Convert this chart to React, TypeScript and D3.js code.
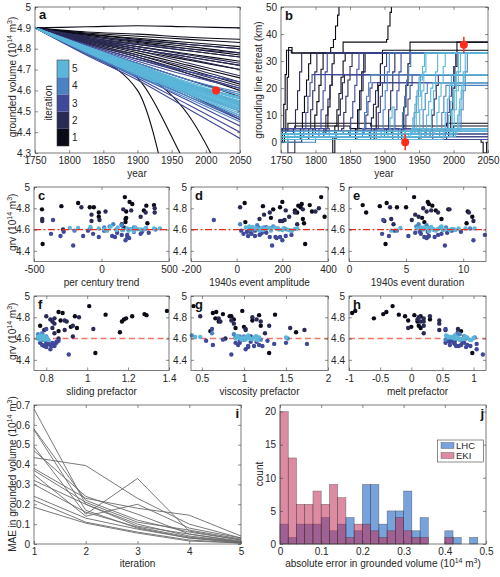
import React, { useEffect, useRef } from 'react';
import * as d3 from 'd3';

const FONT = '"Liberation Sans", Arial, Helvetica, sans-serif';
const INK = '#262626';
const AXIS = '#404040';
const RED = '#ff2b1c';
const iterColors = ['#0b0b17', '#2a2a56', '#3f4899', '#4a82c3', '#5bb6d9'];
const iterations = [1, 2, 3, 4, 5];

// (a) grounded volume runs: knots at these years, each run is [iteration, v1825, v1900, v1975, v2050]
const volumeYears = [1750, 1825, 1900, 1975, 2050];
const volumeStart = 4.9;
const volumeRuns: number[][] = [
  [1, 4.905, 4.91, 4.905, 4.9], [1, 4.88, 4.87, 4.855, 4.845], [1, 4.875, 4.86, 4.845, 4.83],
  [1, 4.87, 4.85, 4.83, 4.81], [1, 4.87, 4.845, 4.82, 4.8], [1, 4.865, 4.835, 4.81, 4.78],
  [1, 4.86, 4.83, 4.8, 4.77], [1, 4.855, 4.82, 4.79, 4.76], [1, 4.85, 4.81, 4.775, 4.74],
  [1, 4.845, 4.8, 4.76, 4.72], [1, 4.84, 4.79, 4.745, 4.7], [1, 4.835, 4.78, 4.72, 4.66],
  [1, 4.83, 4.77, 4.7, 4.63], [1, 4.825, 4.76, 4.68, 4.6], [1, 4.8, 4.72, 4.63, 4.54],
  [1, 4.78, 4.6, 3.7, 3.0], [1, 4.79, 4.66, 4.22, 3.8], [1, 4.8, 4.7, 4.48, 4.0],
  [2, 4.86, 4.84, 4.82, 4.8], [2, 4.85, 4.82, 4.79, 4.76], [2, 4.845, 4.81, 4.77, 4.73],
  [2, 4.84, 4.8, 4.75, 4.7], [2, 4.835, 4.79, 4.73, 4.67], [2, 4.83, 4.77, 4.71, 4.64],
  [2, 4.82, 4.75, 4.68, 4.61], [2, 4.81, 4.73, 4.65, 4.57], [2, 4.8, 4.71, 4.62, 4.53],
  [2, 4.79, 4.69, 4.58, 4.46], [2, 4.855, 4.825, 4.8, 4.78], [2, 4.845, 4.8, 4.76, 4.72],
  [2, 4.825, 4.76, 4.69, 4.62],
  [3, 4.79, 4.69, 4.58, 4.47], [3, 4.78, 4.67, 4.55, 4.43], [3, 4.775, 4.66, 4.53, 4.4],
  [3, 4.77, 4.65, 4.51, 4.37], [3, 4.8, 4.71, 4.62, 4.53], [3, 4.81, 4.73, 4.65, 4.58],
  [3, 4.815, 4.74, 4.67, 4.61], [3, 4.785, 4.68, 4.57, 4.46], [3, 4.795, 4.7, 4.6, 4.5],
  [3, 4.82, 4.75, 4.69, 4.64],
  [4, 4.8, 4.7, 4.61, 4.53], [4, 4.79, 4.69, 4.59, 4.5], [4, 4.78, 4.67, 4.57, 4.47],
  [4, 4.81, 4.72, 4.63, 4.56], [4, 4.795, 4.7, 4.6, 4.51], [4, 4.785, 4.68, 4.58, 4.48],
  [4, 4.81, 4.73, 4.65, 4.59], [4, 4.78, 4.665, 4.56, 4.45], [4, 4.805, 4.71, 4.62, 4.54],
  [5, 4.8, 4.71, 4.62, 4.55], [5, 4.79, 4.7, 4.61, 4.53], [5, 4.8, 4.7, 4.6, 4.52],
  [5, 4.79, 4.69, 4.6, 4.51], [5, 4.81, 4.72, 4.63, 4.56], [5, 4.8, 4.7, 4.615, 4.54],
  [5, 4.785, 4.68, 4.59, 4.5], [5, 4.795, 4.695, 4.605, 4.525], [5, 4.805, 4.715, 4.63, 4.57],
  [5, 4.79, 4.685, 4.595, 4.515], [5, 4.8, 4.705, 4.62, 4.545], [5, 4.81, 4.725, 4.64, 4.58],
  [5, 4.785, 4.68, 4.585, 4.49], [5, 4.8, 4.7, 4.61, 4.535], [5, 4.795, 4.69, 4.6, 4.52],
  [5, 4.805, 4.71, 4.625, 4.55], [5, 4.79, 4.69, 4.595, 4.505], [5, 4.81, 4.72, 4.635, 4.565],
  [5, 4.785, 4.675, 4.58, 4.48], [5, 4.795, 4.7, 4.61, 4.54], [5, 4.8, 4.705, 4.615, 4.535],
  [5, 4.81, 4.715, 4.63, 4.56],
];
const volumeObs = { year: 2015, value: 4.6 };

// (b) grounding line retreat, step changes as [year, km]
const retreatRuns: [number, number[][]][] = [
  [1, [[1750, 0], [1755, 3], [1757, 12], [1759, 24], [1761, 35], [1766, 33]]],
  [1, [[1750, 0], [1752, 5], [1754, 14], [1756, 25], [1758, 34], [1765, 33]]],
  [1, [[1750, 1], [1778, 5], [1781, 11], [1784, 17], [1787, 23], [1790, 29], [1793, 33], [1822, 35], [1826, 38], [1829, 43], [1832, 47], [1834, 53]]],
  [1, [[1750, 2], [1796, 5], [1799, 10], [1802, 15], [1805, 21], [1808, 27], [1811, 33], [1840, 37], [1903, 38], [1905, 43], [1908, 48], [1910, 53]]],
  [1, [[1750, 3], [1815, 5], [1818, 13], [1821, 21], [1824, 29], [1827, 33]]],
  [1, [[1750, 3], [1828, 6], [1831, 12], [1834, 18], [1837, 24], [1840, 30], [1843, 33]]],
  [1, [[1750, 1], [1858, 5], [1861, 12], [1864, 19], [1867, 26], [1870, 33]]],
  [1, [[1750, 1], [1885, 5], [1888, 13], [1891, 21], [1894, 29], [1897, 34]]],
  [1, [[1750, 2], [1993, 4], [1996, 12], [1999, 20], [2002, 28], [2005, 37]]],
  [1, [[1750, 4], [1760, 7], [1880, 6], [1990, 7]]],
  [1, [[1750, 5], [1770, 6], [1850, 5], [1950, 4], [2000, 6]]],
  [1, [[1750, 2], [1825, -4], [1828, 2], [1950, 1], [2040, 0], [2043, -4], [2048, 0]]],
  [1, [[1750, 1], [1925, 5], [1928, 13], [1931, 21], [1934, 29], [1937, 37]]],
  [2, [[1750, 3], [1768, 5], [1771, 12], [1774, 19], [1777, 26], [1780, 33]]],
  [2, [[1750, 2], [1790, 5], [1793, 12], [1796, 19], [1799, 26], [1802, 33]]],
  [2, [[1750, 2], [1812, 5], [1815, 10], [1818, 16], [1821, 21], [1824, 25]]],
  [2, [[1750, 1], [1830, 4], [1833, 10], [1836, 16], [1839, 22], [1842, 25]]],
  [2, [[1750, 4], [1838, 5], [1841, 11], [1844, 17], [1847, 23], [1850, 28], [1853, 33]]],
  [2, [[1750, 3], [1860, 5], [1863, 12], [1866, 19], [1869, 26], [1872, 33]]],
  [2, [[1750, 2], [1878, 4], [1881, 9], [1884, 14], [1887, 19], [1890, 22]]],
  [2, [[1750, 1], [1760, -4], [1770, 1], [1790, 3], [1900, 2]]],
  [2, [[1750, 3], [1903, 5], [1906, 12], [1909, 19], [1912, 26], [1915, 33]]],
  [2, [[1750, 2], [1966, 4], [1969, 10], [1972, 16], [1975, 21], [1978, 25]]],
  [2, [[1750, 5], [1800, 4], [1900, 5], [2000, 3]]],
  [2, [[1750, 0], [1780, 1], [1830, 3], [1880, 1], [1930, 2], [1990, 1]]],
  [2, [[1750, 4], [1790, 2], [1850, 4], [1910, 3], [1960, 5]]],
  [3, [[1750, 2], [1783, 5], [1786, 11], [1789, 17], [1792, 22], [1795, 25]]],
  [3, [[1750, 2], [1805, 5], [1808, 12], [1811, 19], [1814, 26], [1817, 33]]],
  [3, [[1750, 3], [1848, 4], [1851, 9], [1854, 15], [1857, 21], [1860, 27], [1863, 33]]],
  [3, [[1750, 3], [1870, 5], [1873, 10], [1876, 15], [1879, 20], [1882, 22]]],
  [3, [[1750, 1], [1888, 5], [1891, 11], [1894, 17], [1897, 22], [1900, 28], [1903, 33]]],
  [3, [[1750, 1], [1912, 5], [1915, 12], [1918, 19], [1921, 26], [1924, 33]]],
  [3, [[1750, 4], [1928, 5], [1931, 10], [1934, 16], [1937, 21], [1940, 25]]],
  [3, [[1750, 2], [1988, 5], [1991, 11], [1994, 17], [1997, 22], [2000, 28], [2003, 33]]],
  [3, [[1750, 3], [1800, 4], [1850, 2], [1900, 5], [1950, 3]]],
  [3, [[1750, 1], [1790, 3], [1840, 4], [1880, 2], [1930, 4], [2000, 2]]],
  [3, [[1750, 5], [1820, 3], [1870, 5], [1920, 4], [1970, 1]]],
  [4, [[1750, 2], [1868, 5], [1871, 11], [1874, 17], [1877, 22], [1880, 25]]],
  [4, [[1750, 2], [1895, 5], [1898, 12], [1901, 19], [1904, 26], [1907, 33]]],
  [4, [[1750, 3], [1923, 5], [1926, 11], [1929, 17], [1932, 23], [1935, 28], [1938, 33]]],
  [4, [[1750, 3], [1940, 5], [1943, 11], [1946, 17], [1949, 22], [1952, 25]]],
  [4, [[1750, 1], [1953, 5], [1956, 12], [1959, 18], [1962, 22]]],
  [4, [[1750, 2], [1980, 5], [1983, 11], [1986, 17], [1989, 21]]],
  [4, [[1750, 4], [2008, 5], [2011, 12], [2014, 19], [2017, 26], [2020, 33]]],
  [4, [[1750, 2], [1900, 3], [2000, 4]]],
  [4, [[1750, 3], [1780, 1], [1830, 3], [1870, 4], [1920, 2], [1960, 4]]],
  [4, [[1750, 0], [1800, 2], [1860, 1], [1920, 3], [1990, 5]]],
  [5, [[1750, 2], [1938, 4], [1941, 9], [1944, 14], [1947, 19], [1950, 24], [1953, 25]]],
  [5, [[1750, 3], [1943, 5], [1946, 11], [1949, 17], [1952, 23], [1955, 28], [1958, 33]]],
  [5, [[1750, 3], [1948, 5], [1951, 12], [1954, 19], [1957, 26], [1960, 33]]],
  [5, [[1750, 2], [1958, 5], [1961, 10], [1964, 15], [1967, 20], [1970, 22]]],
  [5, [[1750, 2], [1965, 5], [1968, 12], [1971, 19], [1974, 26], [1977, 33]]],
  [5, [[1750, 3], [1973, 5], [1976, 11], [1979, 17], [1982, 22], [1985, 28], [1988, 33]]],
  [5, [[1750, 1], [1985, 5], [1988, 11], [1991, 16], [1994, 21], [1997, 25]]],
  [5, [[1750, 2], [1995, 5], [1998, 12], [2001, 19], [2004, 26], [2007, 33]]],
  [5, [[1750, 2], [1998, 5], [2001, 12], [2004, 19], [2007, 26], [2010, 33]]],
  [5, [[1750, 2], [2003, 4], [2006, 10], [2009, 16], [2012, 21], [2015, 25]]],
  [5, [[1750, 3], [2005, 5], [2008, 12], [2011, 19], [2014, 26], [2017, 33]]],
  [5, [[1750, 3], [1940, 4]]],
  [5, [[1750, 2], [1935, 3], [1940, 5]]],
  [5, [[1750, 1], [1800, 2], [1950, 4]]],
  [5, [[1750, 0], [1760, 3], [1940, 4], [2030, 5]]],
  [5, [[1750, 3], [1790, 2], [1820, 4], [1860, 3], [1900, 4], [1940, 5], [2000, 4]]],
  [5, [[1750, 1], [1780, 3], [1830, 2], [1880, 3], [1930, 4], [1990, 5]]],
  [5, [[1750, 2], [1770, 4], [1810, 3], [1850, 4], [1900, 3], [1945, 5]]],
  [5, [[1750, 2], [1905, 4], [1908, 9], [1911, 13], [1914, 4], [1990, 4], [1993, 10], [1996, 15], [1999, 21], [2002, 25]]],
];
const retreatObs = [{ year: 1930, value: 0, err: 3 }, { year: 2015, value: 36, err: 3 }];

// (c-h) ensemble members: [grv, trend, amplitude, duration, sliding, viscosity, melt]
const iter1Samples = [
  [4.905, 173, 370, 5.7, 1.01, 0.4, -0.3], [4.86, 208, 200, 6.9, 1.39, 0.98, -0.9],
  [4.85, -173, 35, 3.3, 0.86, 0.67, -0.4], [4.84, 228, 285, 7.0, 0.88, 0.63, -0.95],
  [4.83, 389, 320, 1.2, 1.28, 0.75, -0.45], [4.82, -297, 115, 2.7, 1.29, 1.18, 0.05],
  [4.825, 332, 270, 7.3, 1.09, 1.37, -0.2], [4.81, -87, 190, 4.2, 0.94, 0.83, 0.15],
  [4.81, -57, 280, 5.0, 1.22, 0.85, -0.1], [4.79, -441, 160, 8.7, 1.19, 0.66, -0.6],
  [4.78, 314, 255, 7.6, 1.18, 0.88, 0.3], [4.77, 183, 330, 10.4, 0.87, 1.1, -0.05],
  [4.76, -20, 265, 1.5, 1.17, 0.7, 0.1], [4.72, -20, 385, 10.8, 0.77, 1.2, 0.12],
  [4.71, 183, 150, 6.4, 0.92, 1.0, 0.0], [4.7, 178, 290, 8.1, 0.95, 0.9, 0.15],
  [4.67, 178, 38, 6.6, 0.86, 0.6, 0.8], [4.66, 340, 295, 10.3, 1.16, 1.62, 0.75],
  [4.465, -436, 300, 3.2, 1.04, 1.3, 0.98],
];
const iter2Samples = [
  [4.81, -149, 15, 3.6, 0.8, 0.48, 0.3], [4.8, 394, 360, 6.5, 0.96, 1.1, 0.12],
  [4.79, 161, 290, 8.8, 0.84, 0.7, 0.2], [4.78, 220, 215, 7.2, 0.82, 1.15, 0.1],
  [4.77, 30, 345, 6.8, 0.89, 0.85, 0.45], [4.76, 327, 145, 7.8, 0.9, 0.72, 0.15],
  [4.76, 394, 255, 10.5, 0.83, 1.2, 0.2], [4.74, -74, 120, 5.8, 0.84, 0.88, 0.45],
  [4.72, 290, 230, 6.1, 0.93, 1.3, 0.2], [4.7, -439, 100, 3.7, 0.83, 1.55, -0.05],
  [4.69, -15, 210, 5.5, 1.03, 1.02, 0.75], [4.68, -74, 190, 3.1, 0.79, 1.72, 0.55],
  [4.68, -439, 200, 10.9, 0.89, 1.02, 0.45], [4.65, 150, 265, 3.9, 0.84, 1.25, 0.2],
  [4.62, 166, 130, 6.1, 0.93, 1.08, 0.85], [4.6, -285, 60, 6.3, 0.86, 0.78, 0.6],
];
const iter3Samples = [
  [4.69, -359, -100, 3.0, 0.8, 0.62, 0.55], [4.56, -374, 30, 2.9, 0.77, 0.9, 0.55],
  [4.54, -304, 80, 5.2, 0.78, 0.93, 0.62], [4.58, -280, 125, 6.2, 0.81, 0.95, 0.7],
  [4.45, -210, 155, 8.4, 0.91, 0.85, 1.15], [4.54, -136, 50, 3.5, 0.84, 0.63, 0.8],
  [4.56, -62, 65, 6.3, 0.83, 0.95, 0.85], [4.53, -20, 145, 6.6, 0.79, 1.05, 0.72],
  [4.54, 79, 215, 7.0, 0.82, 1.18, 0.9], [4.57, 116, 110, 5.8, 0.8, 1.08, 0.62],
  [4.53, 191, 190, 7.5, 0.84, 1.22, 0.95], [4.55, 191, 240, 7.8, 0.8, 1.75, 1.05],
  [4.58, 240, 45, 6.9, 0.86, 0.55, 0.58], [4.56, 290, 105, 8.1, 0.85, 1.5, 0.68],
  [4.5, 178, 200, 10.9, 0.82, 1.02, 1.05], [4.52, 205, 175, 6.8, 0.8, 1.05, 0.88],
  [4.55, 150, 100, 11.9, 0.81, 1.36, 0.7], [4.59, -100, 80, 9.0, 0.79, 0.75, 0.78],
  [4.57, 350, 130, 8.6, 0.85, 1.15, 0.82], [4.59, 20, 20, 4.0, 0.78, 1.0, 0.65],
  [4.53, 100, 170, 6.9, 0.83, 1.12, 0.76], [4.58, 300, 60, 9.8, 0.8, 1.28, 0.6],
];
const iter4Samples = [
  [4.63, 60, 160, 5.9, 0.77, 0.38, 0.7], [4.65, 87, 15, 6.1, 0.78, 0.62, 0.75],
  [4.61, -82, 180, 7.0, 0.76, 0.9, 0.65], [4.62, 240, 95, 8.5, 0.8, 1.0, 0.58],
  [4.6, 400, 60, 7.4, 0.79, 1.1, 0.84], [4.64, 150, 90, 6.8, 0.76, 0.88, 0.78],
  [4.59, -200, 240, 4.2, 0.81, 1.2, 0.55], [4.61, 330, 210, 10.6, 0.77, 1.05, 1.02],
  [4.62, 20, 120, 8.0, 0.78, 0.95, 0.72], [4.6, 110, 75, 9.2, 0.8, 1.52, 0.88],
];
const iter5Samples = [
  [4.615, -235, 110, 6.8, 0.76, 0.42, 0.62], [4.615, -173, 135, 7.0, 0.77, 0.48, 0.66],
  [4.625, -82, 70, 7.2, 0.78, 0.92, 0.7], [4.6, 22, 95, 6.5, 0.76, 0.98, 0.74],
  [4.59, 42, 150, 7.6, 0.79, 1.02, 0.78], [4.63, 67, 55, 8.1, 0.77, 1.05, 0.56],
  [4.595, 111, 200, 8.8, 0.78, 1.08, 0.8], [4.595, 153, 230, 9.3, 0.8, 1.1, 0.82],
  [4.61, 190, 175, 6.0, 0.76, 1.12, 0.6], [4.605, 215, 125, 7.8, 0.78, 0.95, 0.68],
  [4.62, 250, 165, 6.3, 0.79, 1.15, 0.86], [4.6, 290, 185, 8.4, 0.77, 1.0, 0.76],
  [4.615, 330, 145, 4.5, 0.76, 1.06, 0.64], [4.61, 389, 265, 10.2, 0.78, 1.18, 0.9],
  [4.61, 433, 205, 11.0, 0.8, 1.5, 0.72], [4.59, 200, 100, 3.7, 0.77, 0.97, 0.94],
  [4.605, 265, 255, 9.0, 0.79, 1.04, 1.0], [4.62, 120, 40, 6.6, 0.78, 1.14, 0.58],
  [4.6, 315, 220, 7.4, 0.76, 0.9, 0.7], [4.595, 160, 115, 8.2, 0.8, 1.09, 0.84],
  [4.61, -20, 85, 9.6, 0.77, 1.01, 0.66], [4.585, 240, 240, 7.0, 0.81, 1.16, 0.96],
];
const sampleSets = [iter1Samples, iter2Samples, iter3Samples, iter4Samples, iter5Samples];
const targetGrv = 4.6;

const paramLabels = ['per century trend', '1940s event amplitude', '1940s event duration', 'sliding prefactor', 'viscosity prefactor', 'melt prefactor'];
const paramLetters = ['c', 'd', 'e', 'f', 'g', 'h'];
const paramDomains = [[-500, 500], [-200, 400], [0, 12], [0.74, 1.4], [0.37, 2], [-1, 1.2]];
const paramTicks = [[-500, 0, 500], [-200, 0, 200, 400], [0, 5, 10], [0.8, 1, 1.2, 1.4], [0.5, 1, 1.5, 2], [-1, -0.5, 0, 0.5, 1]];

// (i) mean absolute error per iteration for each experiment
const maeIterations = [1, 2, 3, 4, 5];
const maeRuns = [
  [0.68, 0.2, 0.09, 0.05, 0.01], [0.58, 0.22, 0.12, 0.06, 0.02], [0.575, 0.17, 0.08, 0.03, 0.005],
  [0.49, 0.15, 0.33, 0.065, 0.02], [0.47, 0.24, 0.15, 0.05, 0.015], [0.435, 0.395, 0.23, 0.1, 0.03],
  [0.38, 0.23, 0.18, 0.145, 0.04], [0.37, 0.21, 0.11, 0.07, 0.025], [0.35, 0.14, 0.2, 0.08, 0.03],
  [0.32, 0.2, 0.1, 0.04, 0.01], [0.3, 0.16, 0.085, 0.035, 0.01], [0.24, 0.13, 0.075, 0.03, 0.01],
  [0.22, 0.11, 0.06, 0.02, 0.005], [0.185, 0.105, 0.055, 0.015, 0.005],
];

// (j) histogram counts, bins of 0.02 starting at 0
const binWidth = 0.02;
const lhcCounts = [3, 1, 3, 3, 3, 4, 2, 3, 4, 2, 9, 9, 3, 5, 5, 8, 2, 4, 0, 0, 2, 1, 0, 1];
const ekiCounts = [20, 13, 6, 6, 8, 6, 9, 7, 1, 3, 3, 2, 1, 2, 4, 2, 1, 1, 0, 0, 1, 0, 0, 0];
const histSeries = [
  { name: 'LHC', counts: lhcCounts, color: '#0a55c0' },
  { name: 'EKI', counts: ekiCounts, color: '#c02c58' },
];

const fmt = (d: any) => String(Math.round(+d * 1000) / 1000);
const supParts = (lead: string): [string, boolean][] => [[lead + ' (10', false], ['14', true], [' m', false], ['3', true], [')', false]];

function styleAxis(sel: any) {
  sel.select('.domain').remove();
  sel.selectAll('line').attr('stroke', AXIS).attr('stroke-width', 0.6);
  sel.selectAll('text').attr('fill', INK).attr('font-size', 10).attr('font-family', FONT);
}

function frame(g: any, x: any, y: any, xTicks: number[], yTicks: number[]) {
  const [x0, x1] = x.range();
  const [yb, yt] = y.range();
  g.append('g').attr('transform', `translate(0,${yb})`)
    .call(d3.axisBottom(x).tickValues(xTicks).tickSizeInner(-3).tickSizeOuter(0).tickPadding(4).tickFormat(fmt)).call(styleAxis);
  g.append('g').attr('transform', `translate(0,${yt})`)
    .call(d3.axisTop(x).tickValues(xTicks).tickSizeInner(-3).tickSizeOuter(0).tickFormat(() => '')).call(styleAxis);
  g.append('g').attr('transform', `translate(${x0},0)`)
    .call(d3.axisLeft(y).tickValues(yTicks).tickSizeInner(-3).tickSizeOuter(0).tickPadding(4).tickFormat(fmt)).call(styleAxis);
  g.append('g').attr('transform', `translate(${x1},0)`)
    .call(d3.axisRight(y).tickValues(yTicks).tickSizeInner(-3).tickSizeOuter(0).tickFormat(() => '')).call(styleAxis);
  g.append('rect').attr('x', x0).attr('y', yt).attr('width', x1 - x0).attr('height', yb - yt)
    .attr('fill', 'none').attr('stroke', AXIS).attr('stroke-width', 0.7);
}

function label(g: any, x: number, y: number, parts: [string, boolean][], rotate: boolean) {
  const t = g.append('text')
    .attr('transform', rotate ? `translate(${x},${y}) rotate(-90)` : `translate(${x},${y})`)
    .attr('text-anchor', 'middle').attr('font-size', 10).attr('fill', INK);
  let up = false;
  parts.forEach(([s, sup]) => {
    t.append('tspan').attr('dy', sup === up ? 0 : sup ? -4 : 4).attr('font-size', sup ? 7 : 10).text(s);
    up = sup;
  });
}

function letter(g: any, x: number, y: number, s: string, anchor = 'start') {
  g.append('text').attr('x', x).attr('y', y).attr('text-anchor', anchor)
    .attr('font-size', 13).attr('font-weight', 'bold').attr('fill', '#111').text(s);
}

function clip(defs: any, id: string, x: any, y: any) {
  const [x0, x1] = x.range();
  const [yb, yt] = y.range();
  defs.append('clipPath').attr('id', id).append('rect').attr('x', x0).attr('y', yt).attr('width', x1 - x0).attr('height', yb - yt);
}

export default function App() {
  const ref = useRef<SVGSVGElement>(null);

  useEffect(() => {
    const svg = d3.select(ref.current);
    svg.selectAll('*').remove();
    svg.attr('font-family', FONT);
    const defs = svg.append('defs');

    // ---------- (a) grounded volume ----------
    const ax = d3.scaleLinear().domain([1750, 2050]).range([35, 240]);
    const ay = d3.scaleLinear().domain([4.3, 5]).range([153, 7]);
    clip(defs, 'clipA', ax, ay);
    const ga = svg.append('g');
    const volLine = d3.line<number[]>().x(d => ax(d[0])).y(d => ay(d[1])).curve(d3.curveMonotoneX);
    const runsA = ga.append('g').attr('clip-path', 'url(#clipA)');
    iterations.forEach(it => {
      volumeRuns.filter(r => r[0] === it).forEach(r => {
        const pts = volumeYears.map((yr, i) => [yr, i === 0 ? volumeStart : r[i]]);
        runsA.append('path').attr('d', volLine(pts)).attr('fill', 'none')
          .attr('stroke', iterColors[it - 1]).attr('stroke-width', 1.1);
      });
    });
    ga.append('circle').attr('cx', ax(volumeObs.year)).attr('cy', ay(volumeObs.value)).attr('r', 4).attr('fill', RED);

    // colourbar
    const cb = d3.scaleLinear().domain([0.5, 5.5]).range([146, 60]);
    iterations.forEach(it => {
      ga.append('rect').attr('x', 57).attr('y', cb(it + 0.5)).attr('width', 12).attr('height', cb(it - 0.5) - cb(it + 0.5))
        .attr('fill', iterColors[it - 1]);
      ga.append('text').attr('x', 72).attr('y', cb(it)).attr('dy', '0.35em').attr('font-size', 10).attr('fill', INK).text(it);
    });
    ga.append('rect').attr('x', 57).attr('y', 60).attr('width', 12).attr('height', 86).attr('fill', 'none').attr('stroke', AXIS).attr('stroke-width', 0.6);
    label(ga, 52, 103, [['iteration', false]], true);

    frame(ga, ax, ay, [1750, 1800, 1850, 1900, 1950, 2000, 2050], [4.3, 4.4, 4.5, 4.6, 4.7, 4.8, 4.9, 5]);
    label(ga, 15.5, 77, supParts('grounded volume'), true);
    label(ga, 137, 177, [['year', false]], false);
    letter(ga, 39, 19, 'a');

    // ---------- (b) grounding line retreat ----------
    const bx = d3.scaleLinear().domain([1750, 2050]).range([281, 488]);
    const by = d3.scaleLinear().domain([-4, 50]).range([153, 7]);
    clip(defs, 'clipB', bx, by);
    const gb = svg.append('g');
    const stepLine = d3.line<number[]>().x(d => bx(d[0])).y(d => by(d[1])).curve(d3.curveStepAfter);
    const runsB = gb.append('g').attr('clip-path', 'url(#clipB)');
    iterations.forEach(it => {
      retreatRuns.filter(r => r[0] === it).forEach(([, pts]) => {
        const full = [...pts, [2050, pts[pts.length - 1][1]]];
        runsB.append('path').attr('d', stepLine(full)).attr('fill', 'none')
          .attr('stroke', iterColors[it - 1]).attr('stroke-width', 1.1);
      });
    });
    retreatObs.forEach(o => {
      gb.append('line').attr('x1', bx(o.year)).attr('x2', bx(o.year)).attr('y1', by(o.value - o.err)).attr('y2', by(o.value + o.err))
        .attr('stroke', RED).attr('stroke-width', 1.5);
      gb.append('circle').attr('cx', bx(o.year)).attr('cy', by(o.value)).attr('r', 4).attr('fill', RED);
    });
    frame(gb, bx, by, [1750, 1800, 1850, 1900, 1950, 2000, 2050], [0, 10, 20, 30, 40, 50]);
    label(gb, 261.5, 80, [['grounding line retreat (km)', false]], true);
    label(gb, 384, 177, [['year', false]], false);
    letter(gb, 285, 20, 'b');

    // ---------- (c-h) parameter scatter ----------
    const cols = [[34, 169], [191, 328], [349, 486]];
    const rows = [[261.5, 187], [370.5, 296]];
    paramLabels.forEach((name, k) => {
      const row = Math.floor(k / 3);
      const col = k % 3;
      const x = d3.scaleLinear().domain(paramDomains[k]).range(cols[col]);
      const y = d3.scaleLinear().domain([4.3, 5]).range(rows[row]);
      const g = svg.append('g');
      const target = () => g.append('line')
        .attr('x1', cols[col][0]).attr('x2', cols[col][1]).attr('y1', y(targetGrv)).attr('y2', y(targetGrv))
        .attr('stroke', row === 0 ? '#ee2a1b' : '#f47663').attr('stroke-width', row === 0 ? 1.2 : 1.5)
        .attr('stroke-dasharray', row === 0 ? '7,2.5,2,2.5' : '6,3.5');
      if (row === 1) target();
      sampleSets.forEach((set, i) => {
        g.append('g').selectAll('circle').data(set).enter().append('circle')
          .attr('cx', d => x(d[k + 1])).attr('cy', d => y(d[0])).attr('r', 2.2)
          .attr('fill', iterColors[i]);
      });
      if (row === 0) target();
      frame(g, x, y, paramTicks[k], [4.4, 4.6, 4.8, 5]);
      label(g, (cols[col][0] + cols[col][1]) / 2, row === 0 ? 286 : 395, [[name, false]], false);
      letter(g, cols[col][0] + 4, rows[row][1] + 13, paramLetters[k]);
      if (col === 0) label(g, 15.5, (rows[row][0] + rows[row][1]) / 2 - 2, supParts('grv'), true);
    });

    // ---------- (i) MAE by iteration ----------
    const ix = d3.scaleLinear().domain([1, 5]).range([34, 241]);
    const iy = d3.scaleLinear().domain([0, 0.7]).range([544, 405]);
    const gi = svg.append('g');
    const maeLine = d3.line<number>().x((_, j) => ix(maeIterations[j])).y(d => iy(d));
    maeRuns.forEach(r => {
      gi.append('path').attr('d', maeLine(r)).attr('fill', 'none').attr('stroke', '#6a6a6a').attr('stroke-width', 0.9);
    });
    frame(gi, ix, iy, [1, 2, 3, 4, 5], [0, 0.1, 0.2, 0.3, 0.4, 0.5, 0.6, 0.7]);
    label(gi, 15.5, 474, supParts('MAE in grounded volume'), true);
    label(gi, 137.5, 567, [['iteration', false]], false);
    letter(gi, 239, 418, 'i', 'end');

    // ---------- (j) error histogram ----------
    const jx = d3.scaleLinear().domain([0, 0.5]).range([280, 486]);
    const jy = d3.scaleLinear().domain([0, 21]).range([544, 405]);
    const gj = svg.append('g');
    histSeries.forEach(s => {
      s.counts.forEach((c, i) => {
        if (c <= 0) return;
        gj.append('rect').attr('x', jx(i * binWidth)).attr('width', jx(binWidth) - jx(0))
          .attr('y', jy(c)).attr('height', jy(0) - jy(c))
          .attr('fill', s.color).attr('fill-opacity', 0.55)
          .attr('stroke', '#333').attr('stroke-opacity', 0.55).attr('stroke-width', 0.6);
      });
    });
    frame(gj, jx, jy, [0, 0.1, 0.2, 0.3, 0.4, 0.5], [0, 5, 10, 15, 20]);
    label(gj, 263, 474, [['count', false]], true);
    label(gj, 383, 567, supParts('absolute error in grounded volume'), false);
    letter(gj, 484, 418, 'j', 'end');

    const lg = gj.append('g');
    lg.append('rect').attr('x', 437.5).attr('y', 440).attr('width', 46).attr('height', 22)
      .attr('fill', '#fff').attr('stroke', AXIS).attr('stroke-width', 0.6);
    histSeries.forEach((s, i) => {
      const yy = 442.5 + i * 10;
      lg.append('rect').attr('x', 441).attr('y', yy).attr('width', 13).attr('height', 6)
        .attr('fill', s.color).attr('fill-opacity', 0.55).attr('stroke', '#333').attr('stroke-opacity', 0.55).attr('stroke-width', 0.6);
      lg.append('text').attr('x', 456).attr('y', yy + 3).attr('dy', '0.35em').attr('font-size', 9.5).attr('fill', INK).text(s.name);
    });
  }, []);

  return (
    <svg ref={ref} width={500} height={577}
      style={{ position: 'absolute', left: 0, top: 0, background: '#fff' }} />
  );
}
